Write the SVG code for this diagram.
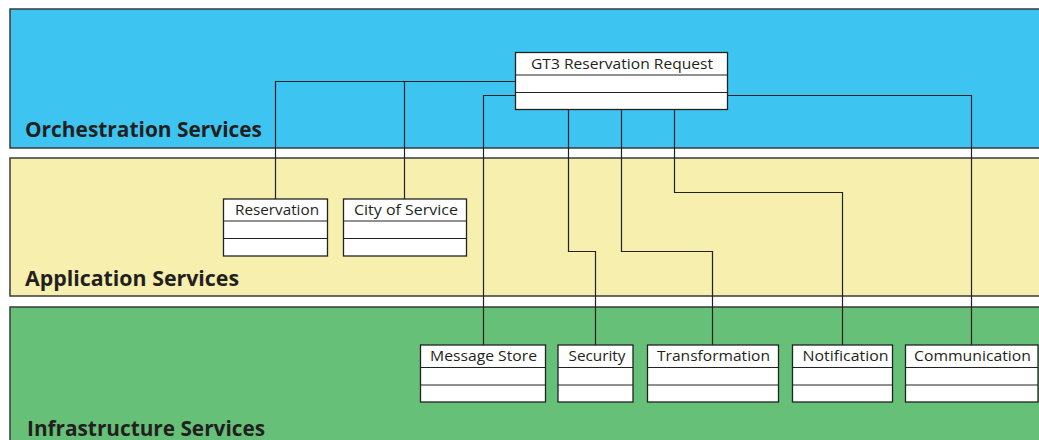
<svg xmlns="http://www.w3.org/2000/svg" width="1039" height="440" viewBox="0 0 1039 440">
<style>
.band{stroke:#3a3a3a;stroke-width:1.5}
.box{fill:#fff;stroke:#222;stroke-width:1.3}
.div{stroke:#222;stroke-width:1.2;fill:none}
.conn{fill:none;stroke:#222;stroke-width:1.2}
.lbl{font-family:"Open Sans","Liberation Sans",sans-serif;font-size:15px;fill:#231f20;text-anchor:middle}
.title{font-family:"Open Sans","Liberation Sans",sans-serif;font-size:22px;font-weight:bold;fill:#231f20}
</style>
<rect width="1039" height="440" fill="#fff"/>
<g id="layers">
<g id="orchestration">
<rect class="band" x="10" y="9" width="1040" height="139" fill="#3DC4F1"/>
<text class="title" x="25" y="137" textLength="237" lengthAdjust="spacingAndGlyphs">Orchestration Services</text>
</g>
<g id="application">
<rect class="band" x="10" y="158" width="1040" height="138" fill="#F7EFAD"/>
<text class="title" x="25" y="286" textLength="214" lengthAdjust="spacingAndGlyphs">Application Services</text>
</g>
<g id="infrastructure">
<rect class="band" x="10" y="307" width="1040" height="140" fill="#66C077"/>
<text class="title" x="27" y="436" textLength="238" lengthAdjust="spacingAndGlyphs">Infrastructure Services</text>
</g>
</g>
<g id="connectors">
<path class="conn" d="M515.5 81.5 H275.5 V199"/>
<path class="conn" d="M404.5 81.5 V199"/>
<path class="conn" d="M515.5 95.5 H483.5 V345"/>
<path class="conn" d="M727.5 95.5 H971.5 V345"/>
<path class="conn" d="M568.5 109.5 V251.5 H595.5 V345"/>
<path class="conn" d="M621.5 109.5 V251.5 H712.5 V345"/>
<path class="conn" d="M674.5 109.5 V192.5 H842.5 V345"/>
</g>
<g id="gt3">
<rect class="box" x="515.5" y="52.5" width="212" height="57"/>
<path class="div" d="M515.5 75 H727.5 M515.5 92.5 H727.5"/>
<text class="lbl" x="622" y="69" textLength="182" lengthAdjust="spacingAndGlyphs">GT3 Reservation Request</text>
</g>
<g id="reservation">
<rect class="box" x="223.5" y="199" width="104" height="57"/>
<path class="div" d="M223.5 221 H327.5 M223.5 238.5 H327.5"/>
<text class="lbl" x="277" y="215" textLength="84" lengthAdjust="spacingAndGlyphs">Reservation</text>
</g>
<g id="city">
<rect class="box" x="343.5" y="199" width="123" height="57"/>
<path class="div" d="M343.5 221 H466.5 M343.5 238.5 H466.5"/>
<text class="lbl" x="406" y="215" textLength="104" lengthAdjust="spacingAndGlyphs">City of Service</text>
</g>
<g id="messagestore">
<rect class="box" x="420.5" y="345" width="125" height="57"/>
<path class="div" d="M420.5 367.5 H545.5 M420.5 385 H545.5"/>
<text class="lbl" x="483.5" y="361" textLength="107" lengthAdjust="spacingAndGlyphs">Message Store</text>
</g>
<g id="security">
<rect class="box" x="558" y="345" width="75" height="57"/>
<path class="div" d="M558 367.5 H633 M558 385 H633"/>
<text class="lbl" x="597" y="361" textLength="57" lengthAdjust="spacingAndGlyphs">Security</text>
</g>
<g id="transformation">
<rect class="box" x="647.5" y="345" width="131" height="57"/>
<path class="div" d="M647.5 367.5 H778.5 M647.5 385 H778.5"/>
<text class="lbl" x="713.5" y="361" textLength="113" lengthAdjust="spacingAndGlyphs">Transformation</text>
</g>
<g id="notification">
<rect class="box" x="792.5" y="345" width="100" height="57"/>
<path class="div" d="M792.5 367.5 H892.5 M792.5 385 H892.5"/>
<text class="lbl" x="845.5" y="361" textLength="86" lengthAdjust="spacingAndGlyphs">Notification</text>
</g>
<g id="communication">
<rect class="box" x="905.5" y="345" width="132.5" height="57"/>
<path class="div" d="M905.5 367.5 H1038 M905.5 385 H1038"/>
<text class="lbl" x="972.5" y="361" textLength="117" lengthAdjust="spacingAndGlyphs">Communication</text>
</g>
</svg>
